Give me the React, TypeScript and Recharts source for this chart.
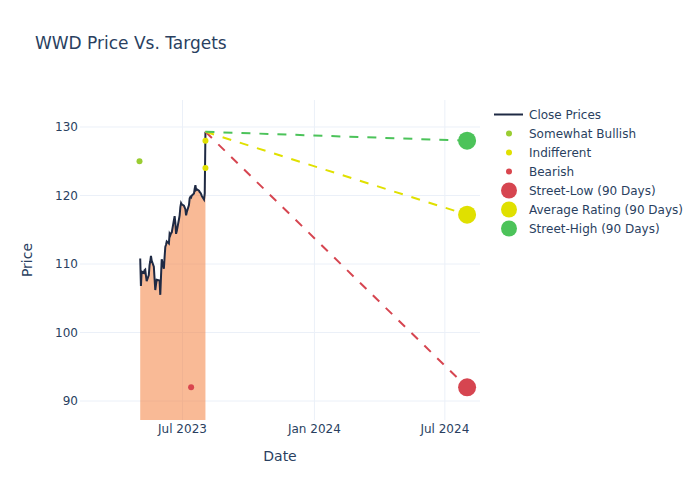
import { ComposedChart, Area, Line, Scatter, XAxis, YAxis, CartesianGrid } from 'recharts';

const closeDates = [
  '2023-05-03', '2023-05-04', '2023-05-05', '2023-05-08', '2023-05-09', '2023-05-10', '2023-05-11', '2023-05-12',
  '2023-05-15', '2023-05-16', '2023-05-17', '2023-05-18', '2023-05-19', '2023-05-22', '2023-05-23', '2023-05-24',
  '2023-05-25', '2023-05-26', '2023-05-30', '2023-05-31', '2023-06-01', '2023-06-02', '2023-06-05', '2023-06-06',
  '2023-06-07', '2023-06-08', '2023-06-09', '2023-06-12', '2023-06-13', '2023-06-14', '2023-06-15', '2023-06-16',
  '2023-06-20', '2023-06-21', '2023-06-22', '2023-06-23', '2023-06-26', '2023-06-27', '2023-06-28', '2023-06-29',
  '2023-06-30', '2023-07-03', '2023-07-05', '2023-07-06', '2023-07-07', '2023-07-10', '2023-07-11', '2023-07-12',
  '2023-07-13', '2023-07-14', '2023-07-17', '2023-07-18', '2023-07-19', '2023-07-20', '2023-07-21', '2023-07-24',
  '2023-07-25', '2023-07-26', '2023-07-27', '2023-07-28', '2023-07-31', '2023-08-01', '2023-08-02',
];
const closePrices = [
  110.8, 106.8, 108.9, 108.7, 109.1, 109.2, 108.3, 107.5,
  108.4, 109.8, 110.4, 111.2, 110.5, 109.6, 107.9, 106.2,
  107.0, 107.7, 107.6, 105.5, 108.2, 110.7, 109.3, 111.0,
  112.5, 112.8, 113.3, 113.0, 114.4, 114.2, 114.5, 114.6,
  117.0, 116.0, 114.4, 114.8, 116.5, 117.1, 118.3, 118.9,
  118.7, 118.5, 118.0, 117.1, 117.6, 118.6, 119.6, 119.8,
  119.7, 120.0, 120.3, 121.0, 121.5, 120.8, 120.9, 120.7,
  120.5, 120.4, 120.2, 119.9, 119.4, 120.3, 129.3,
];

const somewhatBullishDates = ['2023-05-02'];
const somewhatBullishTargets = [125];
const indifferentDates = ['2023-08-02', '2023-08-02'];
const indifferentTargets = [128, 124];
const bearishDates = ['2023-07-13'];
const bearishTargets = [92];

const targetDate = '2024-08-01';
const streetLow = 92;
const averageRating = 117.2;
const streetHigh = 128;

const xTickDates = ['2023-07-01', '2024-01-01', '2024-07-01'];
const yTicks = [90, 100, 110, 120, 130];
const monthNames = ['Jan', 'Feb', 'Mar', 'Apr', 'May', 'Jun', 'Jul', 'Aug', 'Sep', 'Oct', 'Nov', 'Dec'];

const ts = (d: string) => Date.parse(d + 'T00:00:00Z');
const fmtDate = (t: number) => {
  const d = new Date(t);
  return `${monthNames[d.getUTCMonth()]} ${d.getUTCFullYear()}`;
};

const closeData = closeDates.map((d, i) => ({ t: ts(d), v: closePrices[i] }));
const toPoints = (dates: string[], vals: number[]) => dates.map((d, i) => ({ t: ts(d), v: vals[i] }));

const last = closeData[closeData.length - 1];
const tgtT = ts(targetDate);
const lowLine = [last, { t: tgtT, v: streetLow }];
const avgLine = [last, { t: tgtT, v: averageRating }];
const highLine = [last, { t: tgtT, v: streetHigh }];

const FONT = '"DejaVu Sans", verdana, sans-serif';
const TEXT = '#2a3f5f';
const GRID = '#ebf0f8';

const C_LINE = '#1f2a44';
const C_BULL = '#9acd32';
const C_IND = '#e0e000';
const C_BEAR = '#d9464e';
const C_LOW = '#d64550';
const C_AVG = '#e0e000';
const C_HIGH = '#4cc35a';

const dot = (r: number, fill: string) => (props: any) => (
  <circle cx={props.cx} cy={props.cy} r={r} fill={fill} />
);

const legendItems = [
  { label: 'Close Prices', kind: 'line', color: C_LINE },
  { label: 'Somewhat Bullish', kind: 'small', color: C_BULL },
  { label: 'Indifferent', kind: 'small', color: C_IND },
  { label: 'Bearish', kind: 'small', color: C_BEAR },
  { label: 'Street-Low (90 Days)', kind: 'big', color: C_LOW },
  { label: 'Average Rating (90 Days)', kind: 'big', color: C_AVG },
  { label: 'Street-High (90 Days)', kind: 'big', color: C_HIGH },
];

export default function App() {
  return (
    <div style={{ position: 'fixed', left: 0, top: 0, width: 700, height: 500, background: '#fff', fontFamily: FONT }}>
      <div style={{ position: 'absolute', left: 35, top: 33, fontSize: 17, color: TEXT, whiteSpace: 'nowrap' }}>
        WWD Price Vs. Targets
      </div>
      <ComposedChart width={700} height={500} margin={{ top: 100, right: 220, bottom: 50, left: 40 }}>
        <CartesianGrid stroke={GRID} strokeWidth={1} syncWithTicks />
        <XAxis
          dataKey="t"
          type="number"
          domain={[ts('2023-02-08'), ts('2024-08-19')]}
          allowDataOverflow
          ticks={xTickDates.map(ts)}
          tickFormatter={fmtDate}
          tick={{ fill: TEXT, fontSize: 12, fontFamily: FONT }}
          tickLine={false}
          axisLine={false}
          tickSize={0}
          tickMargin={4}
          height={30}
          label={{ value: 'Date', position: 'bottom', offset: 1, fill: TEXT, fontSize: 14, fontFamily: FONT }}
        />
        <YAxis
          dataKey="v"
          type="number"
          domain={[87.23, 133.94]}
          allowDataOverflow
          ticks={yTicks}
          tick={{ fill: TEXT, fontSize: 12, fontFamily: FONT }}
          tickLine={false}
          axisLine={false}
          tickSize={0}
          tickMargin={2}
          width={40}
          label={{ value: 'Price', angle: -90, position: 'left', offset: 13, fill: TEXT, fontSize: 14, fontFamily: FONT, style: { textAnchor: 'middle' } }}
        />
        <Area
          data={closeData}
          dataKey="v"
          type="linear"
          stroke="none"
          fill="#f4813f"
          fillOpacity={0.55}
          isAnimationActive={false}
        />
        <Line
          data={closeData}
          dataKey="v"
          type="linear"
          stroke={C_LINE}
          strokeWidth={2}
          dot={false}
          isAnimationActive={false}
        />
        <Scatter data={toPoints(somewhatBullishDates, somewhatBullishTargets)} dataKey="v" shape={dot(3, C_BULL)} isAnimationActive={false} />
        <Scatter data={toPoints(indifferentDates, indifferentTargets)} dataKey="v" shape={dot(3, C_IND)} isAnimationActive={false} />
        <Scatter data={toPoints(bearishDates, bearishTargets)} dataKey="v" shape={dot(3, C_BEAR)} isAnimationActive={false} />
        <Line data={lowLine} dataKey="v" type="linear" stroke={C_LOW} strokeWidth={2} strokeDasharray="9 9" dot={false} isAnimationActive={false} />
        <Line data={avgLine} dataKey="v" type="linear" stroke={C_AVG} strokeWidth={2} strokeDasharray="9 9" dot={false} isAnimationActive={false} />
        <Line data={highLine} dataKey="v" type="linear" stroke={C_HIGH} strokeWidth={2} strokeDasharray="9 9" dot={false} isAnimationActive={false} />
        <Scatter data={[{ t: tgtT, v: streetLow }]} dataKey="v" shape={dot(9, C_LOW)} isAnimationActive={false} />
        <Scatter data={[{ t: tgtT, v: averageRating }]} dataKey="v" shape={dot(9, C_AVG)} isAnimationActive={false} />
        <Scatter data={[{ t: tgtT, v: streetHigh }]} dataKey="v" shape={dot(9, C_HIGH)} isAnimationActive={false} />
      </ComposedChart>
      <div style={{ position: 'absolute', left: 494, top: 105, fontSize: 12, color: TEXT }}>
        {legendItems.map((it) => (
          <div key={it.label} style={{ height: 19, display: 'flex', alignItems: 'center', whiteSpace: 'nowrap' }}>
            <svg width={35} height={19} style={{ flex: 'none' }}>
              {it.kind === 'line' ? (
                <line x1={0} x2={29} y1={9.5} y2={9.5} stroke={it.color} strokeWidth={2} />
              ) : (
                <circle cx={15} cy={9.5} r={it.kind === 'big' ? 8 : 3} fill={it.color} />
              )}
            </svg>
            <span>{it.label}</span>
          </div>
        ))}
      </div>
    </div>
  );
}
